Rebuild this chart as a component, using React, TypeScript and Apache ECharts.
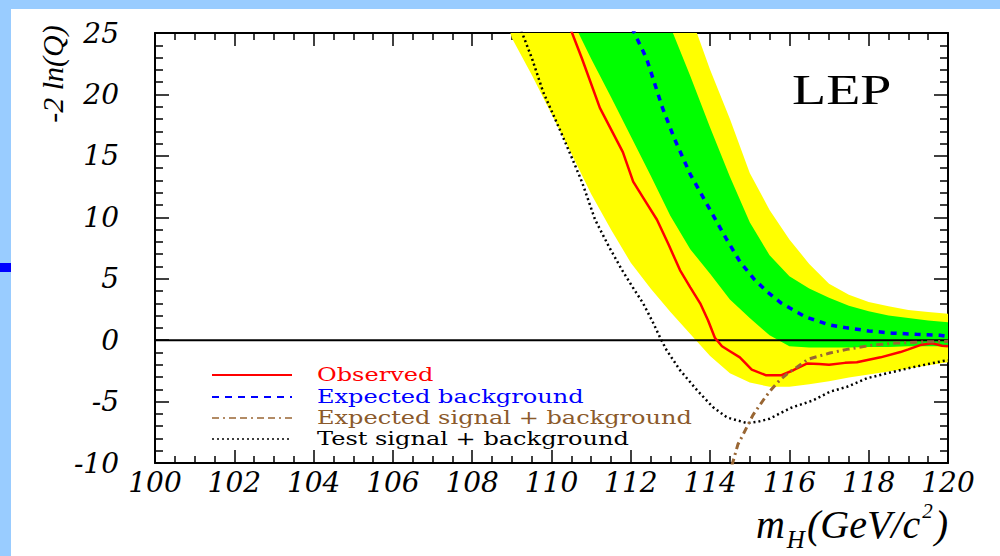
import React, { useEffect, useRef } from "react";
import * as echarts from "echarts";

// ---- Data ----
const xTicks = { min: 100, max: 120, interval: 2 };
const yTicks = { min: -10, max: 25, interval: 5 };

// Band grid (mass in GeV/c^2)
const bandMass = [108.5, 109, 109.5, 110, 110.5, 111, 111.5, 112, 112.5, 113, 113.5, 114, 114.5, 115, 115.5, 116, 116.5, 117, 117.5, 118, 118.5, 119, 119.5, 120];
// 2-sigma band (yellow)
const yellowLow = [30, 24.6, 21.6, 18.4, 15.2, 11.9, 9.0, 6.3, 4.2, 2.3, 0.5, -1.3, -2.7, -3.45, -3.8, -3.8, -3.6, -3.35, -3.05, -2.8, -2.55, -2.3, -2.05, -1.8];
const yellowHigh = [30, 30, 30, 30, 30, 30, 30, 30, 30, 30, 26.5, 22.0, 18.0, 13.6, 10.6, 8.2, 6.2, 4.6, 3.7, 3.1, 2.75, 2.45, 2.3, 2.15];
// 1-sigma band (green)
const greenLow = [30, 30, 30, 30, 26.2, 22.9, 19.8, 16.6, 13.4, 10.1, 7.4, 5.4, 3.3, 1.8, 0.4, -0.5, -0.6, -0.6, -0.6, -0.55, -0.55, -0.5, -0.5, -0.5];
const greenHigh = [30, 30, 30, 30, 30, 30, 30, 30, 30, 25.5, 21.5, 17.3, 13.3, 9.6, 6.9, 5.2, 4.2, 3.45, 2.8, 2.35, 2.0, 1.8, 1.6, 1.45];

const observed = [
  [110.4, 26.0], [110.77, 22.9], [111.22, 18.9], [111.8, 15.3], [112.06, 12.9], [112.35, 11.4], [112.66, 9.8],
  [112.95, 7.8], [113.24, 5.7], [113.5, 4.3], [113.75, 3.0], [113.95, 1.6], [114.12, 0.2], [114.3, -0.5],
  [114.5, -0.9], [114.75, -1.4], [115.05, -2.4], [115.4, -2.85], [115.8, -2.85], [116.1, -2.45], [116.45, -1.9],
  [116.75, -1.95], [117.0, -2.0], [117.4, -1.85], [117.7, -1.8], [118.0, -1.6], [118.3, -1.4], [118.8, -0.97],
  [119.0, -0.75], [119.3, -0.4], [119.6, -0.25], [119.85, -0.45], [120.0, -0.5],
];
const expectedBackground = [
  [111.9, 26.3], [112.4, 22.9], [112.8, 18.9], [113.1, 16.4], [113.5, 13.5], [114.0, 10.6], [114.4, 8.3],
  [114.75, 6.4], [115.1, 5.0], [115.45, 3.9], [115.8, 3.0], [116.4, 1.9], [117.0, 1.25], [117.45, 1.0],
  [118.0, 0.75], [118.6, 0.57], [119.2, 0.48], [119.8, 0.4], [120.0, 0.3],
];
const expectedSignalBackground = [
  [114.55, -10.2], [114.7, -8.5], [114.83, -7.7], [115.08, -6.1], [115.23, -5.4], [115.38, -4.7], [115.55, -4.0],
  [115.76, -3.25], [116.0, -2.6], [116.19, -2.2], [116.47, -1.55], [117.02, -1.05], [117.45, -0.75],
  [118.1, -0.4], [118.7, -0.24], [119.3, -0.15], [120.0, -0.1],
];
const testSignalBackground = [
  [109.1, 26.3], [109.26, 25.0], [109.51, 22.9], [109.79, 20.2], [110.16, 17.5], [110.52, 14.8], [110.77, 12.86],
  [111.1, 9.8], [111.45, 7.6], [111.78, 5.7], [112.05, 4.3], [112.31, 3.0], [112.55, 1.5], [112.74, 0.2],
  [112.9, -0.8], [113.24, -2.44], [113.67, -4.07], [114.07, -5.45], [114.43, -6.3], [114.93, -6.75],
  [115.2, -6.65], [115.5, -6.4], [115.8, -5.9], [116.05, -5.5], [116.6, -4.9], [117.02, -4.2], [117.45, -3.8],
  [117.96, -3.1], [118.46, -2.7], [119.12, -2.2], [119.87, -1.7], [120.0, -1.65],
];
const zeroLine = [[100, 0], [120, 0]];

const legendNames = ["Observed", "Expected background", "Expected signal + background", "Test signal + background"];
const legendColors = ["#ff0000", "#0000ff", "#8b5a2b", "#000000"];
const lineColors = ["#ff0000", "#0000ff", "#996633", "#000000"];

const SERIF = '"Liberation Serif", "Times New Roman", serif';
const DEJA = '"DejaVu Serif", serif';

function measure(text: string, font: string): number {
  const ctx = document.createElement("canvas").getContext("2d");
  if (!ctx) return text.length * 10;
  ctx.font = font;
  return ctx.measureText(text).width;
}

export default function App() {
  const ref = useRef<HTMLDivElement>(null);

  useEffect(() => {
    if (!ref.current) return;
    const chart = echarts.init(ref.current, undefined, { renderer: "svg" });

    const axisLine = { show: true, onZero: false, lineStyle: { color: "#000", width: 2 } };
    const tickLine = { color: "#000", width: 1.5 };
    const labelStyle = { show: true, color: "#000", fontSize: 28, fontStyle: "italic", fontFamily: DEJA };

    const xBase = (position: string, showLabel: boolean) => ({
      type: "value",
      position,
      min: xTicks.min,
      max: xTicks.max,
      interval: xTicks.interval,
      axisLine,
      axisTick: { show: true, inside: true, length: 13, lineStyle: tickLine },
      minorTick: { show: true, splitNumber: 4, length: 7, lineStyle: tickLine },
      splitLine: { show: false },
      axisLabel: showLabel ? { ...labelStyle, margin: 5 } : { show: false },
    });
    const yBase = (position: string, showLabel: boolean) => ({
      type: "value",
      position,
      min: yTicks.min,
      max: yTicks.max,
      interval: yTicks.interval,
      axisLine,
      axisTick: { show: true, inside: true, length: 14, lineStyle: tickLine },
      minorTick: { show: true, splitNumber: 5, length: 8, lineStyle: tickLine },
      splitLine: { show: false },
      axisLabel: showLabel ? { ...labelStyle, margin: 36 } : { show: false },
    });

    const band = (name: string, lo: number[], hi: number[], color: string) => ({
      name,
      type: "custom",
      silent: true,
      clip: true,
      z: 1,
      data: bandMass.map((m, i) => [m, lo[i], hi[i]]),
      encode: { x: 0, y: [1, 2] },
      renderItem: (params: any, api: any) => {
        if (params.dataIndexInside !== 0) return null;
        const n = params.dataInsideLength;
        const upper: number[][] = [];
        const lower: number[][] = [];
        for (let i = 0; i < n; i++) {
          const x = api.value(0, i);
          upper.push(api.coord([x, api.value(2, i)]));
          lower.push(api.coord([x, api.value(1, i)]));
        }
        const cs = params.coordSys;
        return {
          type: "polygon",
          shape: { points: upper.concat(lower.reverse()) },
          style: { fill: color, stroke: "none" },
          clipPath: { type: "rect", shape: { x: cs.x, y: cs.y, width: cs.width, height: cs.height } },
        };
      },
    });

    const curve = (name: string, data: number[][], color: string, width: number, type: any) => ({
      name,
      type: "line",
      data,
      symbol: "none",
      silent: true,
      lineStyle: { color, width, type },
      z: 4,
    });

    // Legend (drawn as graphics so its text can be stretched like the reference font)
    const legendFont = `18px ${DEJA}`;
    const legendScale = 375 / measure(legendNames[2], legendFont);
    const legendRows = [375, 397, 418, 439];
    const legendDash: any[] = [null, [7, 6], [7, 4, 2, 4, 7, 4], [2, 3]];
    const legendWidth = [2, 2, 1.6, 1.6];
    const legendGraphics: any[] = [];
    legendNames.forEach((name, i) => {
      legendGraphics.push({
        type: "line",
        shape: { x1: 212, y1: legendRows[i], x2: 292, y2: legendRows[i] },
        style: { stroke: lineColors[i], lineWidth: legendWidth[i], lineDash: legendDash[i] },
        z: 10,
      });
      legendGraphics.push({
        type: "text",
        x: 317,
        y: legendRows[i],
        scaleX: legendScale,
        style: { text: name, font: legendFont, fill: legendColors[i], verticalAlign: "middle", align: "left" },
        z: 10,
      });
    });

    // x-axis title m_H(GeV/c^2), laid out piece by piece ending at the frame's right edge
    const mainFont = `italic 40px ${SERIF}`;
    const subFont = `italic 25px ${SERIF}`;
    const supFont = `italic 21px ${SERIF}`;
    const pieces = [
      { t: "m", f: mainFont, dy: 0 },
      { t: "H", f: subFont, dy: 15 },
      { t: "(GeV/c", f: mainFont, dy: 0 },
      { t: "2", f: supFont, dy: -13 },
      { t: ")", f: mainFont, dy: 0 },
    ];
    const widths = pieces.map((p) => measure(p.t, p.f) + 2);
    const total = widths.reduce((a, b) => a + b, 0);
    let cx = 950 - total;
    const nameBaseY = 524;
    const nameGraphics = pieces.map((p, i) => {
      const g = {
        type: "text",
        x: cx,
        y: nameBaseY + p.dy,
        style: { text: p.t, font: p.f, fill: "#000", align: "left", verticalAlign: "middle" },
      };
      cx += widths[i];
      return g;
    });

    chart.setOption({
      animation: false,
      backgroundColor: "transparent",
      grid: { left: 155, right: 52, top: 33, bottom: 93, containLabel: false },
      xAxis: [xBase("bottom", true), xBase("top", false)],
      yAxis: [yBase("left", true), yBase("right", false)],
      series: [
        band("2 sigma band", yellowLow, yellowHigh, "#ffff00"),
        band("1 sigma band", greenLow, greenHigh, "#00ff00"),
        { name: "zero", type: "line", data: zeroLine, symbol: "none", silent: true, lineStyle: { color: "#000", width: 2 }, z: 3 },
        curve(legendNames[3], testSignalBackground, lineColors[3], 2.5, [2, 3]),
        curve(legendNames[0], observed, lineColors[0], 2.5, "solid"),
        curve(legendNames[1], expectedBackground, lineColors[1], 3.5, [6, 6]),
        curve(legendNames[2], expectedSignalBackground, lineColors[2], 3, [7, 4, 2, 4]),
      ],
      graphic: [
        {
          type: "text",
          x: 792,
          y: 90,
          scaleX: 1.3,
          style: { text: "LEP", font: `43px ${SERIF}`, fill: "#000", align: "left", verticalAlign: "middle" },
        },
        {
          type: "text",
          x: 52,
          y: 74,
          rotation: Math.PI / 2,
          style: { text: "-2 ln(Q)", font: `italic 30px ${SERIF}`, fill: "#000", align: "center", verticalAlign: "middle" },
        },
        ...nameGraphics,
        ...legendGraphics,
      ],
    });

    return () => chart.dispose();
  }, []);

  return (
    <div style={{ position: "fixed", left: 0, top: 0, width: 1000, height: 556, background: "#99ccff", overflow: "hidden" }}>
      <div style={{ position: "absolute", left: 11, top: 9, right: 0, bottom: 0, background: "#ffffff" }} />
      <div style={{ position: "absolute", left: 0, top: 263, width: 11, height: 9, background: "#0000ff" }} />
      <div ref={ref} style={{ position: "absolute", left: 0, top: 0, width: 1000, height: 556 }} />
    </div>
  );
}
